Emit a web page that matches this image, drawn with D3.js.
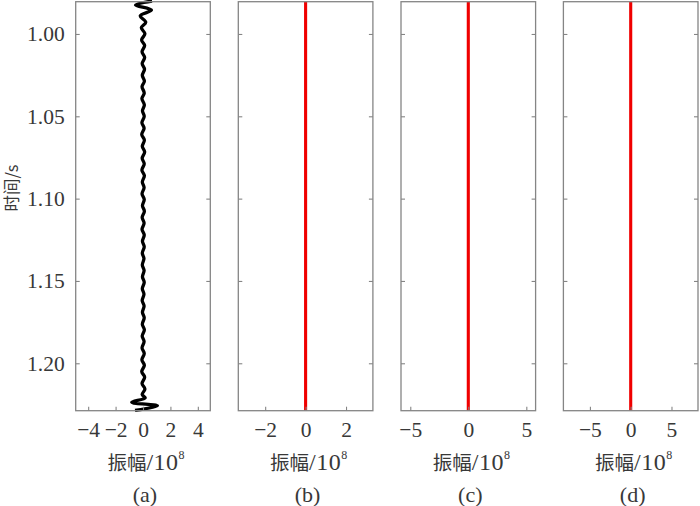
<!DOCTYPE html>
<html>
<head>
<meta charset="utf-8">
<script src="https://cdn.jsdelivr.net/npm/d3@7/dist/d3.min.js"></script>
<style>
  html, body { margin: 0; padding: 0; background: #fff; }
  svg { display: block; }
</style>
</head>
<body>
<svg id="chart" width="700" height="506"></svg>
<script>
// ---------------- data ----------------
const timeDomain = [0.9804, 1.2288];
const yTicks = [1.00, 1.05, 1.10, 1.15, 1.20];
const panelNames = ["(a)", "(b)", "(c)", "(d)"];
const xDomains = [[-4.91, 4.91], [-3.33, 3.33], [-5.8, 5.8], [-8.25, 8.25]];
const xTicks = [[-4, -2, 0, 2, 4], [-2, 0, 2], [-5, 0, 5], [-5, 0, 5]];

// panel (a): recorded trace (amplitude / 1e8) vs time (s)
const traceTimes = [
  0.9800, 0.9824, 0.9855, 0.9890, 0.9928, 0.9962, 0.9999, 1.0036, 1.0070, 1.0108,
  1.0143, 1.0180, 1.0214, 1.0251, 1.0287, 1.0320, 1.0359, 1.0392, 1.0431, 1.0466,
  1.0500, 1.0539, 1.0572, 1.0611, 1.0644, 1.0683, 1.0716, 1.0755, 1.0788, 1.0827,
  1.0860, 1.0899, 1.0932, 1.0971, 1.1004, 1.1043, 1.1076, 1.1115, 1.1148, 1.1187,
  1.1220, 1.1259, 1.1292, 1.1331, 1.1364, 1.1403, 1.1436, 1.1475, 1.1508, 1.1547,
  1.1580, 1.1619, 1.1652, 1.1691, 1.1724, 1.1763, 1.1796, 1.1835, 1.1868, 1.1907,
  1.1940, 1.1979, 1.2012, 1.2051, 1.2084, 1.2123, 1.2156, 1.2190, 1.2210, 1.2237,
  1.2258, 1.2286
];
const traceA = [
  0.66, -0.55, 0.62, -0.20, 0.20, -0.12, 0.14, -0.10, 0.12, -0.07,
  0.12, -0.06, 0.11, -0.05, 0.10, -0.07, 0.09, -0.08, 0.10, -0.04,
  0.09, -0.08, 0.08, -0.09, 0.10, -0.05, 0.12, -0.06, 0.09, -0.08,
  0.10, -0.05, 0.08, -0.07, 0.09, -0.04, 0.10, -0.06, 0.08, -0.07,
  0.09, -0.04, 0.09, -0.05, 0.07, -0.05, 0.08, -0.04, 0.09, -0.05,
  0.07, -0.06, 0.08, -0.04, 0.09, -0.05, 0.10, -0.06, 0.08, -0.07,
  0.09, -0.08, 0.10, -0.09, 0.12, -0.07, 0.14, -0.06, 0.16, -0.82,
  1.05, -0.58
];
// panels (b)-(d): residual traces (zero)
const zeroTimes = [0.9804, 1.2288];
const traceB = [0, 0];
const traceC = [0, 0];
const traceD = [0, 0];

// ---------------- layout ----------------
const svg = d3.select("#chart");
const panelLeft = [75.7, 238.3, 401.0, 563.4];
const panelW = 134.6;
const plotTop = 1.7, plotBottom = 410.7;
const axisColor = "#858585";
const textColor = "#383838";
const serif = "'Liberation Serif','Times New Roman','DejaVu Serif',serif";
const cjk = "'Noto Sans CJK SC','Noto Sans CJK JP',sans-serif";

const y = d3.scaleLinear().domain(timeDomain).range([plotTop, plotBottom]);

const series = [
  {t: traceTimes, v: traceA, color: "#000", w: 3.3},
  {t: zeroTimes, v: traceB, color: "#f00000", w: 3.1},
  {t: zeroTimes, v: traceC, color: "#f00000", w: 3.1},
  {t: zeroTimes, v: traceD, color: "#f00000", w: 3.1}
];

panelNames.forEach((name, i) => {
  const x0 = panelLeft[i];
  const x = d3.scaleLinear().domain(xDomains[i]).range([x0, x0 + panelW]);
  const g = svg.append("g");

  // data line
  const s = series[i];
  const pts = s.t.map((t, k) => [t, s.v[k]]);
  const line = d3.line()
    .x(d => x(d[1]))
    .y(d => y(d[0]))
    .curve(d3.curveCatmullRom.alpha(0.5));
  g.append("path")
    .datum(pts)
    .attr("d", line)
    .attr("fill", "none")
    .attr("stroke", s.color)
    .attr("stroke-width", s.w)
    .attr("stroke-linejoin", "round")
    .attr("stroke-linecap", "butt");

  // bottom axis (ticks inward)
  const xAxis = d3.axisBottom(x).tickValues(xTicks[i]).tickSizeInner(-4).tickSizeOuter(0)
    .tickPadding(11)
    .tickFormat(d => d < 0 ? "\u2212" + Math.abs(d) : String(d));
  const gx = g.append("g").attr("transform", `translate(0,${plotBottom})`).call(xAxis);
  gx.attr("font-family", null).attr("font-size", null);
  gx.select(".domain").remove();
  gx.selectAll(".tick line").attr("stroke", axisColor).attr("stroke-width", 1.1);
  gx.selectAll(".tick text")
    .attr("fill", textColor)
    .attr("font-family", serif)
    .attr("font-size", "21.5px");

  // left ticks (inward), right mirrored ticks
  const yAxisL = d3.axisLeft(y).tickValues(yTicks).tickSizeInner(-4).tickSizeOuter(0)
    .tickPadding(11).tickFormat(d3.format(".2f"));
  const gy = g.append("g").attr("transform", `translate(${x0},0)`).call(yAxisL);
  gy.attr("font-family", null).attr("font-size", null);
  gy.select(".domain").remove();
  gy.selectAll(".tick line").attr("stroke", axisColor).attr("stroke-width", 1.1);
  if (i === 0) {
    gy.selectAll(".tick text")
      .attr("fill", textColor)
      .attr("font-family", serif)
      .attr("font-size", "21.5px");
  } else {
    gy.selectAll(".tick text").remove();
  }
  const yAxisR = d3.axisRight(y).tickValues(yTicks).tickSizeInner(-4).tickSizeOuter(0).tickFormat("");
  const gyr = g.append("g").attr("transform", `translate(${x0 + panelW},0)`).call(yAxisR);
  gyr.select(".domain").remove();
  gyr.selectAll(".tick line").attr("stroke", axisColor).attr("stroke-width", 1.1);

  // frame
  g.append("rect")
    .attr("x", x0).attr("y", plotTop)
    .attr("width", panelW).attr("height", plotBottom - plotTop)
    .attr("fill", "none")
    .attr("stroke", axisColor)
    .attr("stroke-width", 1.3);

  // x label: 振幅/10^8
  const cx = x0 + panelW / 2 + 3;
  const lbl = g.append("text")
    .attr("x", cx).attr("y", 470)
    .attr("text-anchor", "middle")
    .attr("fill", textColor);
  lbl.append("tspan").attr("font-family", cjk).attr("font-size", "19.5px").text("振幅");
  lbl.append("tspan").attr("font-family", serif).attr("font-size", "24px")
    .attr("letter-spacing", "0.5px").text("/10");
  lbl.append("tspan").attr("font-family", serif).attr("font-size", "12px")
    .attr("dy", -11).text("8");

  // panel name
  g.append("text")
    .attr("x", x0 + panelW / 2 + 2).attr("y", 502)
    .attr("text-anchor", "middle")
    .attr("fill", textColor)
    .attr("font-family", serif)
    .attr("font-size", "22px")
    .text(name);
});

// y label
svg.append("text")
  .attr("transform", `translate(18,188) rotate(-90)`)
  .attr("text-anchor", "middle")
  .attr("fill", textColor)
  .attr("font-family", cjk)
  .attr("font-size", "16.5px")
  .text("时间/s");
</script>
</body>
</html>
